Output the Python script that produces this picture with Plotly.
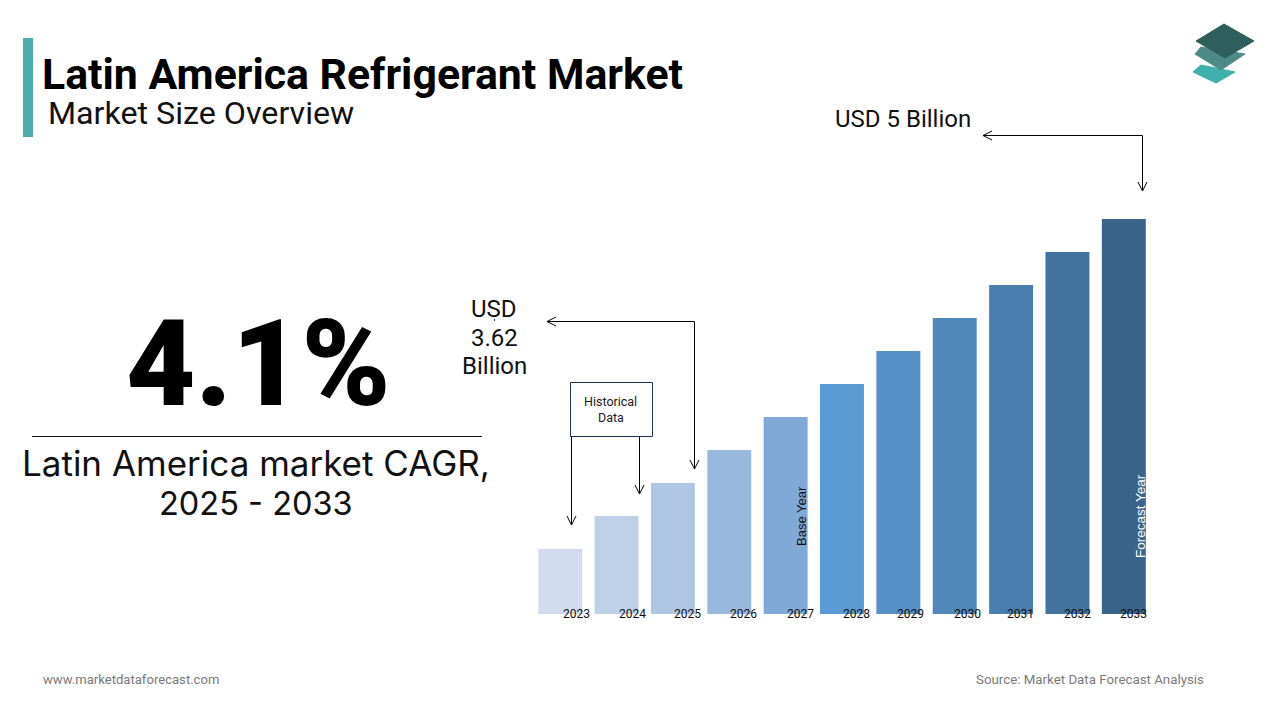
import plotly.graph_objects as go

# --- data ---
years = ["2023", "2024", "2025", "2026", "2027", "2028", "2029", "2030", "2031", "2032", "2033"]
# the bars carry no scale in the source, so these are relative bar heights
bar_heights = [65, 98, 131, 164, 197, 230, 263, 296, 329, 362, 395]
bar_colors = ["#d0dcee", "#bfd1e9", "#aec6e4", "#98b8de", "#80a9d8", "#5b9bd5",
              "#5690c6", "#5088ba", "#4a7eae", "#43739f", "#3a648c"]
title_text = "Latin America Refrigerant Market"
subtitle_text = "Market Size Overview"
cagr_text = "4.1%"

W, H = 1280, 720

# pixel helpers, margins are 0 so paper coords = page fraction
def px(x):
    return x / W

def py(y):
    return 1 - y / H

fig = go.Figure()
fig.add_trace(go.Bar(x=years, y=bar_heights, marker=dict(color=bar_colors, line_width=0),
                     hoverinfo="skip", showlegend=False))

shapes = []
annotations = []

def add_text(x, y, text, size, color="#000000", family="Roboto", weight=None, xanchor="center", angle=0):
    annotations.append(dict(xref="paper", yref="paper", x=px(x), y=py(y), text=text, showarrow=False,
                            xanchor=xanchor, yanchor="middle", textangle=angle,
                            font=dict(family=family, size=size, color=color, weight=weight)))

def add_path(points, color="#000000", width=1.0, fill=None):
    d = "M " + " L ".join(f"{px(a):.5f},{py(b):.5f}" for a, b in points)
    if fill:
        d += " Z"
    shapes.append(dict(type="path", xref="paper", yref="paper", path=d,
                       line=dict(color=color, width=width), fillcolor=fill))

def arrow_down(x, y):
    add_path([(x - 4.5, y - 9), (x, y), (x + 4.5, y - 9)])

def arrow_left(x, y):
    add_path([(x + 9, y - 4.5), (x, y), (x + 9, y + 4.5)])

# header
shapes.append(dict(type="rect", xref="paper", yref="paper", x0=px(23), x1=px(33), y0=py(137), y1=py(38),
                   fillcolor="#4bacab", line_width=0))
add_text(40, 74, title_text, 42.8, weight=700, xanchor="left")
add_text(46, 113, subtitle_text, 32.2, color="#111111", xanchor="left")

# logo
add_path([(1193, 72), (1201, 65), (1235, 72), (1216, 83)], color="#3fb0ad", fill="#3fb0ad")
add_path([(1195, 54), (1201, 47), (1245, 54), (1221, 70)], color="#4d8a88", fill="#4d8a88")
add_path([(1196, 41), (1224, 24), (1254, 41), (1225, 58)], color="#2f5f5c", fill="#2f5f5c")

# left panel
add_text(258, 364, cagr_text, 120, family="Roboto", weight=900)
shapes.append(dict(type="line", xref="paper", yref="paper", x0=px(32), x1=px(482), y0=py(436.5), y1=py(436.5),
                   line=dict(color="#111111", width=1)))
add_text(256, 463, "Latin America market CAGR,", 35, color="#111111", family="Inter")
add_text(256, 503, "2025 - 2033", 32.5, color="#111111", family="Inter")

# callouts
add_text(903, 119, "USD 5 Billion", 24, color="#111111")
add_path([(983, 135.5), (1142.5, 135.5), (1142.5, 191)])
arrow_left(983, 135.5)
arrow_down(1142.5, 191)

add_text(494, 309, "USD", 24, color="#111111")
add_text(494, 338, "3.62", 24, color="#111111")
add_text(494, 366, "Billion", 24, color="#111111")
add_path([(494.5, 319), (494.5, 321)], width=0.8)
add_path([(547, 321.5), (694.5, 321.5), (694.5, 469)])
arrow_left(547, 321.5)
arrow_down(694.5, 469)

shapes.append(dict(type="rect", xref="paper", yref="paper", x0=px(570.5), x1=px(652.5), y0=py(436.5), y1=py(382.5),
                   line=dict(color="#1f3550", width=1), fillcolor="rgba(0,0,0,0)"))
add_text(610.5, 401, "Historical", 12.5, color="#1a1a1a")
add_text(610.5, 417, "Data", 12.5, color="#1a1a1a")
add_path([(571.5, 436.5), (571.5, 525)])
arrow_down(571.5, 525)
add_path([(639.5, 436.5), (639.5, 494)])
arrow_down(639.5, 494)

# year labels sit off-centre from their bars in the source
label_shift = [16, 16, 15, 14, 15, 14, 12, 13, 9, 10, 10]
for i, (year, shift) in enumerate(zip(years, label_shift)):
    # annotation x on a category axis is the category index
    annotations.append(dict(x=i, y=0, xref="x", yref="y", text=year, showarrow=False, xshift=shift,
                            xanchor="center", yanchor="middle", font=dict(family="Roboto", size=12, color="#111111")))

add_text(801, 516, "Base Year", 13, color="#111111", family="Liberation Sans", angle=-90)
add_text(1140, 516, "Forecast Year", 13.5, color="#ffffff", family="Liberation Sans", angle=-90)

# footer
add_text(41, 679, "www.marketdataforecast.com", 13.1, color="#7a7a7a", xanchor="left")
add_text(1206, 679, "Source: Market Data Forecast Analysis", 13.3, color="#7a7a7a", xanchor="right")

fig.update_layout(width=W, height=H, margin=dict(l=0, r=0, t=0, b=0), autosize=False,
                  paper_bgcolor="white", plot_bgcolor="white", bargap=0.22,
                  shapes=shapes, annotations=annotations,
                  xaxis=dict(domain=[px(532), px(1152)], type="category", visible=False, range=[-0.5, 10.5]),
                  yaxis=dict(domain=[py(614), py(200)], visible=False, range=[0, 414]))
# drop the default page margin so the figure starts at the window corner
fig.write_html("out.html", config={"displayModeBar": False},
               post_script="document.body.style.margin='0';")
